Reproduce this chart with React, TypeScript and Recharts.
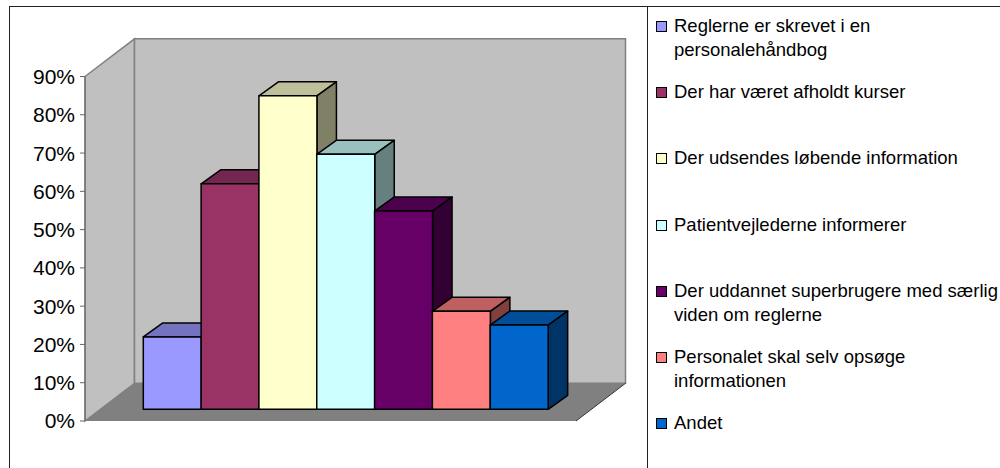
import { Bar, BarChart, Customized, XAxis, YAxis } from "recharts"

const CATEGORIES = [
  "Reglerne er skrevet i en personalehåndbog",
  "Der har været afholdt kurser",
  "Der udsendes løbende information",
  "Patientvejlederne informerer",
  "Der uddannet superbrugere med særlig viden om reglerne",
  "Personalet skal selv opsøge informationen",
  "Andet",
]
const VALUES = [18.9, 58.9, 81.9, 66.6, 51.8, 25.6, 22]
const FRONT_COLORS = ["#9999FF", "#993366", "#FFFFCC", "#CCFFFF", "#660066", "#FF8080", "#0066CC"]
const TOP_COLORS = ["#7373BF", "#732650", "#BFBF99", "#99BFBF", "#4D004D", "#BF6060", "#004D99"]
const SIDE_COLORS = ["#4D4D80", "#4D1A33", "#808066", "#668080", "#330033", "#804040", "#003366"]
const Y_TICKS = [0, 10, 20, 30, 40, 50, 60, 70, 80, 90]

const FONT = "'Liberation Sans', Arial, sans-serif"

const data = CATEGORIES.map((name, i) => ({ name, value: VALUES[i] }))

// plot area on the page
const LEFT = 85
const RIGHT = 576
const TOP = 76.5
const BOTTOM = 421
// depth of the whole box, and where the bars sit inside it
const WALL_DX = 49.5
const WALL_DY = 37.7
const BAR_SHIFT_X = 15.6
const BAR_SHIFT_Y = 11.7
const BAR_DX = 19.5
const BAR_DY = 14

function Walls() {
  const bx = LEFT + WALL_DX
  const brx = RIGHT + WALL_DX
  const ty = TOP - WALL_DY
  const by = BOTTOM - WALL_DY
  return (
    <g>
      <polygon
        points={`${LEFT},${TOP} ${bx},${ty} ${bx},${by} ${LEFT},${BOTTOM}`}
        fill="#C0C0C0"
        stroke="#808080"
        strokeWidth={1.5}
      />
      <polygon
        points={`${bx},${ty} ${brx},${ty} ${brx},${by} ${bx},${by}`}
        fill="#C0C0C0"
        stroke="#808080"
        strokeWidth={1.5}
      />
      <polygon points={`${LEFT},${BOTTOM} ${bx},${by} ${brx},${by} ${RIGHT},${BOTTOM}`} fill="#808080" />
      <line x1={RIGHT} y1={BOTTOM} x2={brx} y2={by} stroke="#333333" strokeWidth={1} />
    </g>
  )
}

function Bar3D(props: any) {
  const { x, y, width, height, index } = props
  const fx = x + BAR_SHIFT_X
  const fy = y - BAR_SHIFT_Y
  const r = fx + width
  const b = fy + height
  return (
    <g stroke="#000000" strokeWidth={1.5} strokeLinejoin="round">
      <polygon
        points={`${fx},${fy} ${fx + BAR_DX},${fy - BAR_DY} ${r + BAR_DX},${fy - BAR_DY} ${r},${fy}`}
        fill={TOP_COLORS[index]}
      />
      <polygon
        points={`${r},${fy} ${r + BAR_DX},${fy - BAR_DY} ${r + BAR_DX},${b - BAR_DY} ${r},${b}`}
        fill={SIDE_COLORS[index]}
      />
      <rect x={fx} y={fy} width={width} height={height} fill={FRONT_COLORS[index]} />
    </g>
  )
}

function LegendList() {
  return (
    <div
      style={{
        position: "absolute",
        left: 648,
        top: 14,
        width: 352,
        fontFamily: FONT,
        fontSize: 18.5,
        lineHeight: "24px",
        color: "#000",
      }}
    >
      {CATEGORIES.map((name, i) => (
        <div key={name} style={{ position: "relative", height: 66.2, paddingLeft: 26, boxSizing: "border-box" }}>
          <span
            style={{
              position: "absolute",
              left: 8,
              top: 7,
              width: 9,
              height: 9,
              background: FRONT_COLORS[i],
              border: "1px solid #000",
            }}
          />
          {name}
        </div>
      ))}
    </div>
  )
}

export default function App() {
  return (
    <div style={{ position: "absolute", left: 0, top: 0, width: 1000, height: 468, overflow: "hidden", background: "#fff" }}>
      <div style={{ position: "absolute", left: 9, top: 6, width: 1000, height: 1, background: "#222" }} />
      <div style={{ position: "absolute", left: 9, top: 6, width: 1, height: 470, background: "#222" }} />
      <div style={{ position: "absolute", left: 647, top: 6, width: 1, height: 470, background: "#222" }} />
      <BarChart
        width={1000}
        height={468}
        data={data}
        barCategoryGap={0}
        margin={{ top: TOP, right: 1000 - RIGHT, bottom: 468 - BOTTOM, left: 0 }}
        style={{ position: "absolute", left: 0, top: 0 }}
      >
        <Customized component={Walls} />
        <XAxis
          dataKey="name"
          height={0}
          tick={false}
          tickLine={false}
          stroke="#222222"
          padding={{ left: 42.7, right: 43.6 }}
        />
        <YAxis
          width={LEFT}
          domain={[0, 90]}
          ticks={Y_TICKS}
          interval={0}
          tickFormatter={(v: number) => `${v}%`}
          tickSize={5}
          tickMargin={5}
          stroke="#666666"
          tick={{ fill: "#000", fontSize: 21, fontFamily: FONT }}
        />
        <Bar dataKey="value" shape={Bar3D} isAnimationActive={false} />
      </BarChart>
      <LegendList />
    </div>
  )
}
